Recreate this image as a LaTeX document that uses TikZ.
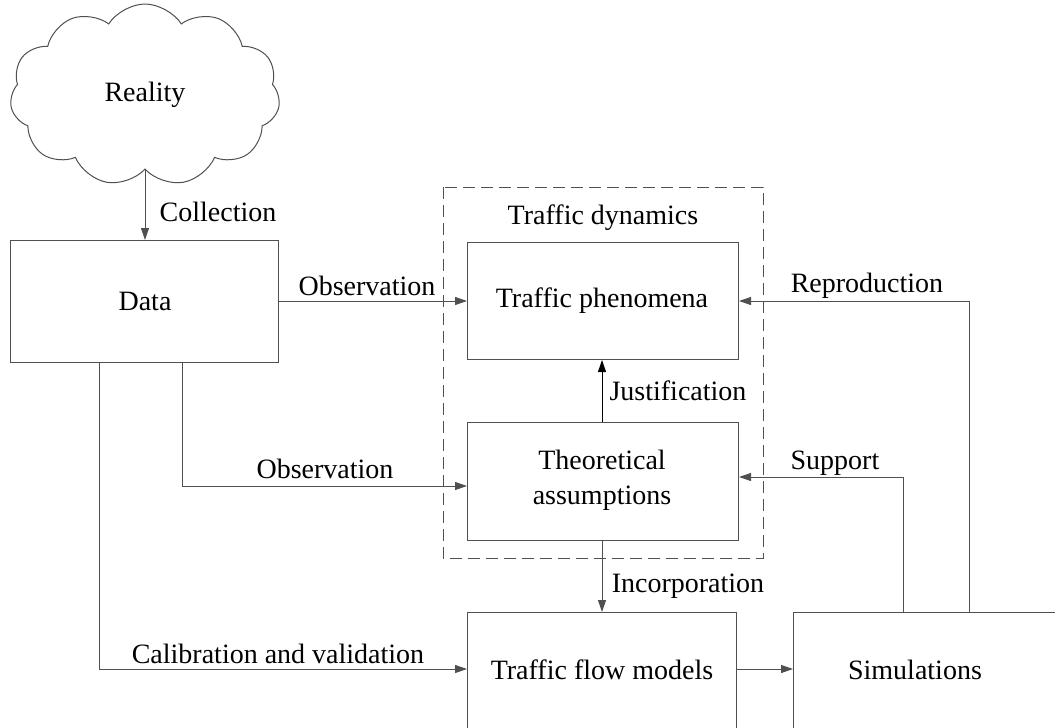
\documentclass[tikz,border=0pt]{standalone}
\usepackage{fontspec}
\setmainfont{Liberation Serif}
\usetikzlibrary{shapes.symbols,arrows.meta}
\definecolor{lc}{RGB}{80,80,80}
\begin{document}
\begin{tikzpicture}[x=1pt,y=-1pt,
  every node/.style={font=\fontsize{28}{33}\selectfont, inner sep=0pt},
  box/.style={draw=lc, line width=1pt, minimum width=270pt, minimum height=118pt, anchor=north west},
  arr/.style={draw=lc, line width=1pt, -{Triangle[length=12pt,width=8pt]}}]
\useasboundingbox (0,0) rectangle (1055,728);
\clip (0,0) rectangle (1055,728);
\fill[white] (0,0) rectangle (1055,728);
% cloud
\node[cloud, draw=lc, line width=1pt, cloud puffs=11, cloud puff arc=115, aspect=1.55,
      shape border rotate=270,
      minimum width=270pt, minimum height=182pt] (reality) at (145,95) {Reality};
% boxes
\node[box, minimum width=268pt, minimum height=122pt] (data) at (10,240) {};
\node (datat) at (145,301) {Data};
\draw[draw=lc, line width=1pt, dash pattern=on 12pt off 6pt] (443,187) rectangle (763,558);
\node (dyn) at (603,218) {Traffic dynamics};
\node[box, minimum width=271pt, minimum height=117pt] (phen) at (467,242) {};
\node (phent) at (602,301) {Traffic phenomena};
\node[box, minimum width=271pt, minimum height=118pt] (theo) at (467,422) {};
\node[align=center, font=\fontsize{28}{35}\selectfont] (theot) at (602,480) {Theoretical\\assumptions};
\node[box, minimum width=269pt, minimum height=118pt] (tfm) at (467,612) {};
\node (tfmt) at (602,670) {Traffic flow models};
\node[box, minimum width=300pt, minimum height=130pt] (sim) at (793,612) {};
\node (simt) at (915,670) {Simulations};
% coordinates
\coordinate (c1) at (182,486);
\coordinate (c2) at (99,669);
\coordinate (c3) at (969,301);
\coordinate (c4) at (903,477);
% connectors
\draw[arr] (reality.south) -- (data.north -| reality.south);
\node (lcoll) at (218,212) {Collection};
\draw[arr] (data.east |- phent) -- (phen.west |- phent);
\node (lobs1) at (367,286) {Observation};
\draw[arr] (data.south -| c1) -- (c1) -- (theo.west |- c1);
\node (lobs2) at (325,469) {Observation};
\draw[arr, draw=black] (theo.north -| tfmt) -- (phen.south -| tfmt);
\node (ljust) at (678,391) {Justification};
\draw[arr] (theo.south -| tfmt) -- (tfm.north -| tfmt);
\node (linc) at (688,586) {Incorporation};
\draw[arr] (data.south -| c2) -- (c2) -- (tfm.west |- c2);
\node (lcal) at (278,654) {Calibration and validation};
\draw[arr] (tfm.east |- c2) -- (sim.west |- c2);
\draw[arr] (sim.north -| c3) -- (c3) -- (phen.east |- c3);
\node (lrep) at (867,286) {Reproduction};
\draw[arr] (sim.north -| c4) -- (c4) -- (theo.east |- c4);
\node (lsup) at (835,463) {Support};
\end{tikzpicture}
\end{document}
